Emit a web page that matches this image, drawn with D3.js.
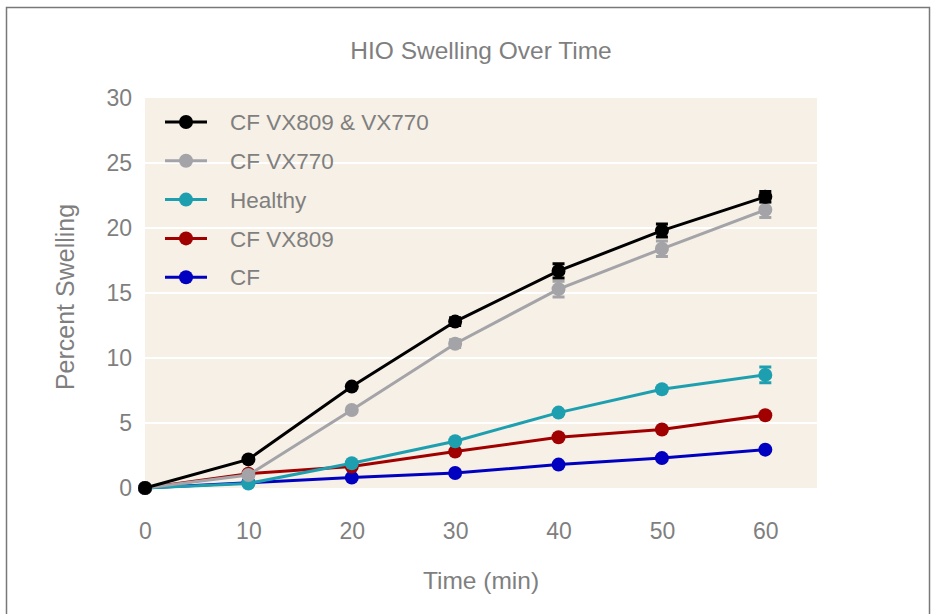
<!DOCTYPE html>
<html>
<head>
<meta charset="utf-8">
<script src="https://cdn.jsdelivr.net/npm/d3@7"></script>
<style>
  body { margin: 0; background: #fff; }
  svg text { font-family: "Liberation Sans", Arial, sans-serif; fill: #7f7f7f; }
</style>
</head>
<body>
<svg></svg>
<script>
// data
var times = [0, 10, 20, 30, 40, 50, 60];
var seriesNames = ["CF VX809 & VX770", "CF VX770", "Healthy", "CF VX809", "CF"];
var seriesColors = ["#000000", "#a3a3a8", "#1e9fb0", "#a00000", "#0000c0"];
var comboValues   = [0, 2.2, 7.8, 12.8, 16.7, 19.8, 22.4];
var comboErrors   = [0, 0.2, 0.2, 0.3, 0.55, 0.5, 0.4];
var vx770Values   = [0, 1.0, 6.0, 11.1, 15.3, 18.4, 21.4];
var vx770Errors   = [0, 0.2, 0.2, 0.3, 0.6, 0.6, 0.6];
var healthyValues = [0, 0.35, 1.9, 3.6, 5.8, 7.6, 8.7];
var healthyErrors = [0, 0.1, 0.2, 0.2, 0.2, 0.2, 0.6];
var vx809Values   = [0, 1.1, 1.65, 2.8, 3.9, 4.5, 5.6];
var vx809Errors   = [0, 0.1, 0.1, 0.1, 0.1, 0.1, 0.2];
var cfValues      = [0, 0.4, 0.8, 1.15, 1.8, 2.3, 2.95];
var cfErrors      = [0, 0.1, 0.1, 0.1, 0.1, 0.1, 0.2];
var yTicks = [0, 5, 10, 15, 20, 25, 30];

var width = 931;
var height = 614;

var allValues = [comboValues, vx770Values, healthyValues, vx809Values, cfValues];
var allErrors = [comboErrors, vx770Errors, healthyErrors, vx809Errors, cfErrors];

var series = seriesNames.map((name, i) => ({
	name: name,
	color: seriesColors[i],
	points: times.map((t, j) => ({ t: t, v: allValues[i][j], e: allErrors[i][j] }))
}));

var svg = d3.select("svg")
	.attr("width", width)
	.attr("height", height);

// outer frame
svg.append("rect")
	.attr("x", 6.5)
	.attr("y", 7.5)
	.attr("width", 923)
	.attr("height", 620)
	.attr("fill", "none")
	.attr("stroke", "#787878")
	.attr("stroke-width", 1.5);

var xScale = d3.scaleLinear()
	.domain([0, 65])
	.range([145, 817]);

var yScale = d3.scaleLinear()
	.domain([0, 30])
	.range([488, 98]);

// plot background
svg.append("rect")
	.attr("x", xScale(0))
	.attr("y", yScale(30))
	.attr("width", xScale(65) - xScale(0))
	.attr("height", yScale(0) - yScale(30))
	.attr("fill", "#f6f0e6");

// gridlines
svg.append("g")
	.selectAll("line")
	.data(yTicks.filter(d => d > 0 && d < 30))
	.enter()
	.append("line")
	.attr("x1", xScale(0))
	.attr("x2", xScale(65))
	.attr("y1", d => yScale(d))
	.attr("y2", d => yScale(d))
	.attr("stroke", "#ffffff")
	.attr("stroke-width", 2);

// axes, no lines, just labels
var yAxis = svg.append("g")
	.attr("transform", `translate(${xScale(0) - 13}, 0)`)
	.call(d3.axisLeft(yScale).tickValues(yTicks).tickSize(0).tickPadding(0));
yAxis.select(".domain").remove();
yAxis.selectAll("text")
	.style("font-size", "23px")
	.style("fill", "#7f7f7f");

var xAxis = svg.append("g")
	.attr("transform", `translate(0, ${yScale(0) + 35})`)
	.call(d3.axisBottom(xScale).tickValues(times).tickSize(0).tickPadding(0));
xAxis.select(".domain").remove();
xAxis.selectAll("text")
	.style("font-size", "23px")
	.style("fill", "#7f7f7f");

// titles
svg.append("text")
	.attr("x", 481)
	.attr("y", 59)
	.style("text-anchor", "middle")
	.style("font-size", "24.5px")
	.text("HIO Swelling Over Time");

svg.append("text")
	.attr("x", 481)
	.attr("y", 589)
	.style("text-anchor", "middle")
	.style("font-size", "24.5px")
	.text("Time (min)");

svg.append("text")
	.attr("transform", "rotate(-90)")
	.attr("x", -297)
	.attr("y", 74)
	.style("text-anchor", "middle")
	.style("font-size", "25px")
	.text("Percent Swelling");

var line = d3.line()
	.x(d => xScale(d.t))
	.y(d => yScale(d.v));

// draw from bottom series up so the black line stays on top
var drawOrder = series.slice().reverse();

var groups = svg.append("g")
	.selectAll("g")
	.data(drawOrder)
	.enter()
	.append("g");

groups.append("path")
	.attr("d", d => line(d.points))
	.attr("fill", "none")
	.attr("stroke", d => d.color)
	.attr("stroke-width", 3);

groups.each(function(s) {
	var g = d3.select(this);
	var pts = s.points.filter(p => p.e >= 0.3);
	g.selectAll(".err")
		.data(pts)
		.enter()
		.append("path")
		.attr("d", p => {
			var x = xScale(p.t), y0 = yScale(p.v - p.e), y1 = yScale(p.v + p.e);
			return `M${x - 6},${y0}H${x + 6}M${x},${y0}V${y1}M${x - 6},${y1}H${x + 6}`;
		})
		.attr("stroke", s.color)
		.attr("stroke-width", 3)
		.attr("fill", "none");
	g.selectAll("circle")
		.data(s.points)
		.enter()
		.append("circle")
		.attr("cx", p => xScale(p.t))
		.attr("cy", p => yScale(p.v))
		.attr("r", 7)
		.attr("fill", s.color);
});

// legend
var legend = svg.append("g")
	.selectAll("g")
	.data(series)
	.enter()
	.append("g")
	.attr("transform", (d, i) => `translate(165, ${122 + i * 38.8})`);

legend.append("line")
	.attr("x1", 0)
	.attr("x2", 42)
	.attr("stroke", d => d.color)
	.attr("stroke-width", 3);

legend.append("circle")
	.attr("cx", 21)
	.attr("r", 7)
	.attr("fill", d => d.color);

legend.append("text")
	.attr("x", 65)
	.attr("dy", "0.36em")
	.style("font-size", "22.5px")
	.text(d => d.name);
</script>
</body>
</html>
